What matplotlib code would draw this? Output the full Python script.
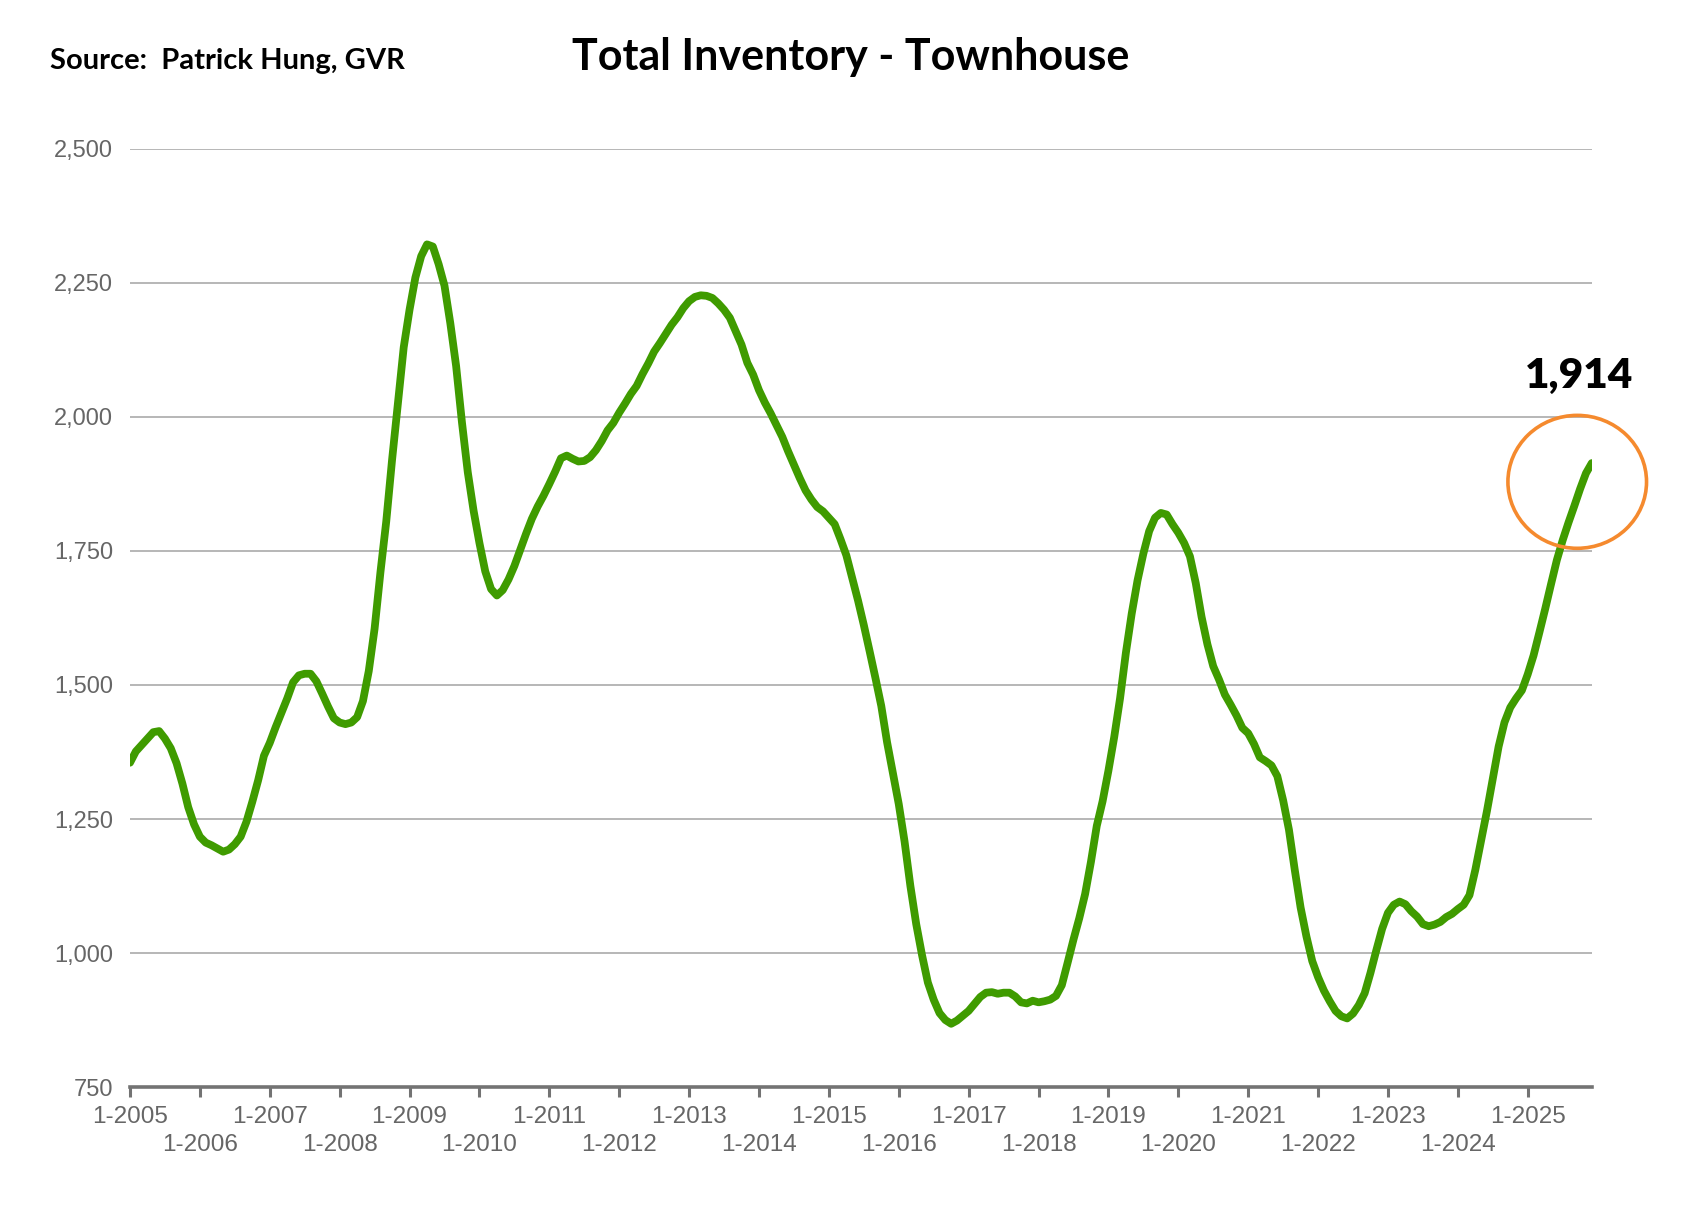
import numpy as np
import matplotlib
matplotlib.use("Agg")
import matplotlib.pyplot as plt
from matplotlib.patches import Ellipse
from matplotlib.ticker import FuncFormatter

# monthly townhouse inventory, Jan 2005 .. Dec 2025
inv_2005 = [1355, 1376, 1388, 1400, 1412, 1414, 1400, 1382, 1354, 1316, 1272, 1240]
inv_2006 = [1217, 1206, 1201, 1195, 1189, 1193, 1203, 1217, 1245, 1282, 1322, 1368]
inv_2007 = [1392, 1421, 1448, 1475, 1505, 1518, 1521, 1521, 1507, 1484, 1460, 1438]
inv_2008 = [1430, 1427, 1430, 1440, 1470, 1526, 1605, 1710, 1805, 1920, 2025, 2130]
inv_2009 = [2200, 2260, 2300, 2322, 2318, 2285, 2245, 2175, 2095, 1990, 1897, 1825]
inv_2010 = [1765, 1712, 1679, 1667, 1677, 1697, 1722, 1752, 1782, 1810, 1833, 1853]
inv_2011 = [1875, 1898, 1923, 1928, 1922, 1917, 1918, 1925, 1938, 1955, 1975, 1989]
inv_2012 = [2008, 2025, 2043, 2058, 2080, 2100, 2122, 2138, 2155, 2172, 2186, 2203]
inv_2013 = [2216, 2224, 2227, 2226, 2222, 2212, 2200, 2185, 2160, 2135, 2101, 2079]
inv_2014 = [2050, 2027, 2007, 1985, 1963, 1936, 1911, 1886, 1863, 1846, 1832, 1824]
inv_2015 = [1812, 1800, 1772, 1742, 1700, 1658, 1612, 1563, 1513, 1461, 1393, 1336]
inv_2016 = [1278, 1208, 1125, 1054, 996, 945, 913, 888, 875, 868, 874, 883]
inv_2017 = [892, 905, 918, 926, 927, 924, 926, 926, 919, 908, 906, 911]
inv_2018 = [908, 910, 913, 920, 940, 982, 1025, 1065, 1110, 1170, 1237, 1283]
inv_2019 = [1340, 1403, 1475, 1560, 1633, 1695, 1745, 1787, 1812, 1821, 1818, 1800]
inv_2020 = [1784, 1765, 1740, 1690, 1627, 1576, 1535, 1510, 1482, 1463, 1443, 1420]
inv_2021 = [1410, 1390, 1365, 1358, 1350, 1330, 1285, 1230, 1155, 1085, 1031, 985]
inv_2022 = [955, 930, 910, 892, 882, 878, 887, 903, 925, 963, 1005, 1045]
inv_2023 = [1075, 1090, 1096, 1091, 1078, 1068, 1054, 1050, 1053, 1058, 1067, 1073]
inv_2024 = [1082, 1090, 1108, 1155, 1210, 1265, 1325, 1385, 1430, 1458, 1475, 1490]
inv_2025 = [1520, 1555, 1598, 1642, 1688, 1733, 1770, 1803, 1834, 1866, 1895, 1914]

years = list(range(2005, 2026))
tick_labels = ["1-%d" % y for y in years]
y_ticks = [750, 1000, 1250, 1500, 1750, 2000, 2250, 2500]

inventory = np.array(inv_2005 + inv_2006 + inv_2007 + inv_2008 + inv_2009 + inv_2010 +
                     inv_2011 + inv_2012 + inv_2013 + inv_2014 + inv_2015 + inv_2016 +
                     inv_2017 + inv_2018 + inv_2019 + inv_2020 + inv_2021 + inv_2022 +
                     inv_2023 + inv_2024 + inv_2025)
months = np.arange(len(inventory))

fig = plt.figure(figsize=(16.97, 12.17), dpi=100)
ax = fig.add_axes([0.0766, 0.1068, 0.8614, 0.7708])

ax.plot(months, inventory, color="#3f9b00", lw=5.6, solid_capstyle="round",
        solid_joinstyle="round", zorder=3)

ax.set_xlim(0, months[-1])
ax.set_ylim(750, 2500)
ax.set_yticks(y_ticks)
ax.yaxis.set_major_formatter(FuncFormatter(lambda v, p: "{:,.0f}".format(v)))
ax.grid(axis="y", color="#aaaaaa", lw=1.2)
ax.set_axisbelow(True)

for s in ["left", "right", "top"]:
    ax.spines[s].set_visible(False)
ax.spines["bottom"].set_color("#737373")
ax.spines["bottom"].set_linewidth(2.6)
ax.spines["bottom"].set_zorder(4)

ax.tick_params(axis="y", length=0, pad=12, labelsize=17, labelcolor="#666666")
ax.set_xticks(months[::12], tick_labels)
ax.tick_params(axis="x", length=7, width=2.2, color="#737373", labelsize=17.5,
               labelcolor="#666666")
for i, t in enumerate(ax.xaxis.get_major_ticks()):
    t.set_pad(7 if i % 2 == 0 else 27)
for lab in ax.get_xticklabels() + ax.get_yticklabels():
    lab.set_fontfamily("Liberation Sans")

# highlight the latest value
ax.add_patch(Ellipse((months[-1] - 2.5, inventory[-1] - 35), 23.8, 248, fill=False,
                     edgecolor="#f58a2e", lw=2.6, clip_on=False, zorder=5))
ax.annotate("{:,}".format(inventory[-1]), (months[-1], inventory[-1]),
            xytext=(-9, 63), textcoords="offset points", ha="center", va="center",
            fontsize=30.5, fontweight="heavy", family="Lato", annotation_clip=False)

fig.text(0.501, 0.953, "Total Inventory - Townhouse", ha="center", va="center",
         fontsize=31, fontweight="bold", family="Lato")
fig.text(0.0295, 0.950, "Source:  Patrick Hung, GVR", ha="left", va="center",
         fontsize=21, fontweight="bold", family="Lato")

plt.savefig("out.png", dpi=100)
